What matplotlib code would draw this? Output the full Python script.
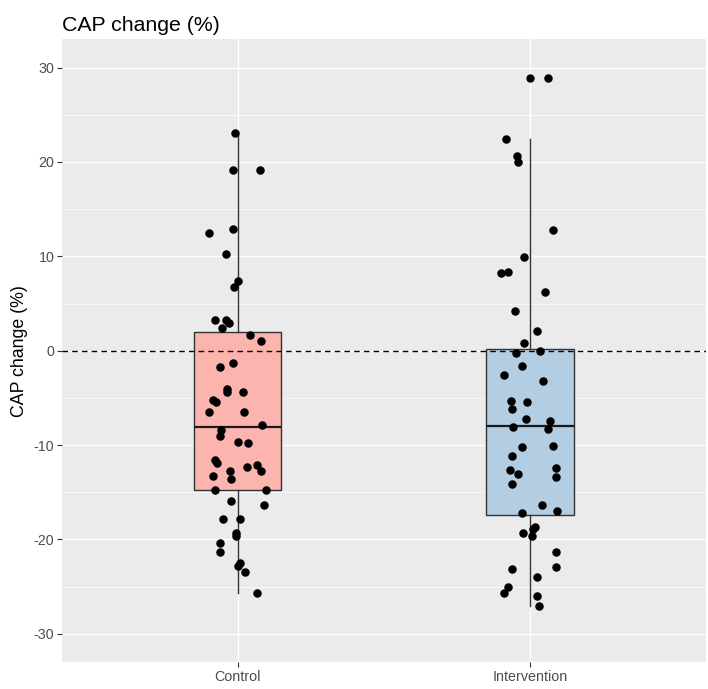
## CAP change (%) by group - boxplot with jittered points

import matplotlib
matplotlib.use("Agg")
import matplotlib.pyplot as plt

plt.rcParams['font.family'] = ['Liberation Sans', 'DejaVu Sans']
plt.rcParams['axes.unicode_minus'] = False   # plain hyphen like the original

# Groups
groups = ["Control", "Intervention"]

# Individual CAP change values (%)
control_vals = [23.1, 19.1, 19.2, 12.5, 12.9, 10.25, 7.35, 6.7, 3.3, 3.3,
                2.9, 2.4, 1.66, 1.03, -1.27, -1.77, -4.1, -4.4, -4.4, -5.2,
                -5.4, -6.5, -6.5, -7.9, -8.4, -9.0, -9.7, -9.8, -11.6, -11.9,
                -12.1, -12.3, -12.7, -12.7, -13.3, -13.6, -14.75, -14.75, -15.9, -16.4,
                -17.8, -17.8, -19.3, -19.6, -20.4, -21.35, -22.5, -22.8, -23.5, -25.7]
control_jitter = [-0.008, -0.017, 0.076, -0.098, -0.017, -0.041, 0.003, -0.011, -0.077, -0.038,
                  -0.030, -0.054, 0.044, 0.081, -0.017, -0.061, -0.037, -0.037, 0.020, -0.085,
                  -0.074, -0.098, 0.023, 0.084, -0.058, -0.061, 0.003, 0.037, -0.076, -0.069,
                  0.066, 0.031, -0.025, 0.081, -0.085, -0.022, -0.077, 0.097, -0.022, 0.089,
                  -0.049, 0.008, -0.004, -0.004, -0.061, -0.061, 0.007, 0.000, 0.024, 0.068]

interv_vals = [28.9, 22.4, 20.6, 20.0, 12.8, 9.9, 8.2, 8.3, 6.2, 4.2,
               2.05, 0.8, -0.25, 0.0, -1.6, -2.6, -3.25, -5.3, -5.4, -6.2,
               -7.2, -7.4, -8.1, -8.25, -10.1, -10.2, -11.2, -12.4, -12.6, -13.1,
               -13.4, -14.1, -16.4, -17.0, -17.15, -18.7, -18.85, -19.3, -19.6, -21.35,
               -22.9, -23.1, -24.0, -25.0, -25.65, -26.0, -27.1]
interv_jitter = [0.061, -0.081, -0.044, -0.041, 0.077, -0.020, -0.098, -0.076, 0.052, -0.052,
                 0.024, -0.020, -0.049, 0.034, -0.028, -0.090, 0.045, -0.066, -0.009, -0.061,
                 -0.013, 0.069, -0.057, 0.061, 0.077, -0.028, -0.061, 0.089, -0.069, -0.041,
                 0.089, -0.061, 0.041, 0.093, -0.028, 0.016, 0.011, -0.025, 0.008, 0.089,
                 0.089, -0.061, 0.024, -0.076, -0.090, 0.024, 0.032]

# Box summaries as drawn in the chart
box_q1 = [-14.75, -17.4]
box_med = [-8.1, -8.0]
box_q3 = [1.97, 0.2]
whisk_lo = [-25.7, -27.0]
whisk_hi = [23.1, 22.4]
outliers = [[], [28.9]]

fills = ["#FBB4AE", "#B3CDE3"]

fig = plt.figure(figsize=(7.08, 6.89), dpi=100)
ax = fig.add_axes([0.0876, 0.039, 0.909, 0.904])
ax.set_facecolor("#EBEBEB")

# Grid lines (ggplot style)
for v in range(-25, 30, 10):
    ax.axhline(v, color="white", lw=0.5, zorder=0)
for v in range(-30, 31, 10):
    ax.axhline(v, color="white", lw=1.0, zorder=0)
for i in range(len(groups)):
    ax.axvline(i + 1, color="white", lw=1.0, zorder=0)

stats = []
for i, g in enumerate(groups):
    stats.append({"label": g, "q1": box_q1[i], "med": box_med[i], "q3": box_q3[i],
                  "whislo": whisk_lo[i], "whishi": whisk_hi[i], "fliers": outliers[i]})

bp = ax.bxp(stats, positions=[1, 2], widths=0.3, patch_artist=True, showcaps=False,
            boxprops=dict(edgecolor="#333333", linewidth=1.0),
            whiskerprops=dict(color="#333333", linewidth=1.0),
            medianprops=dict(color="#1a1a1a", linewidth=1.6),
            flierprops=dict(marker="o", markerfacecolor="black", markeredgecolor="black",
                            markersize=5))
for patch, c in zip(bp["boxes"], fills):
    patch.set_facecolor(c)
    patch.set_zorder(2)

# Reference line at zero
ax.axhline(0, color="black", lw=1.0, ls=(0, (4, 3)), zorder=3)

# Jittered points
ax.scatter([1 + j for j in control_jitter], control_vals, s=26, color="black", zorder=4)
ax.scatter([2 + j for j in interv_jitter], interv_vals, s=26, color="black", zorder=4)

ax.set_xlim(0.4, 2.6)
ax.set_ylim(-33, 33)
ax.set_xticks([1, 2])
ax.set_xticklabels(groups)
ax.set_yticks(range(-30, 31, 10))
for s in ax.spines.values():
    s.set_visible(False)
ax.tick_params(axis="both", colors="#333333", labelcolor="#4D4D4D", labelsize=10.3,
               length=3.5, width=0.8, pad=2)

ax.set_ylabel("CAP change (%)", fontsize=12.8, color="black", labelpad=4)
ax.set_title("CAP change (%)", fontsize=15.3, loc="left", pad=6, color="black")

plt.savefig("out.png", dpi=100)
